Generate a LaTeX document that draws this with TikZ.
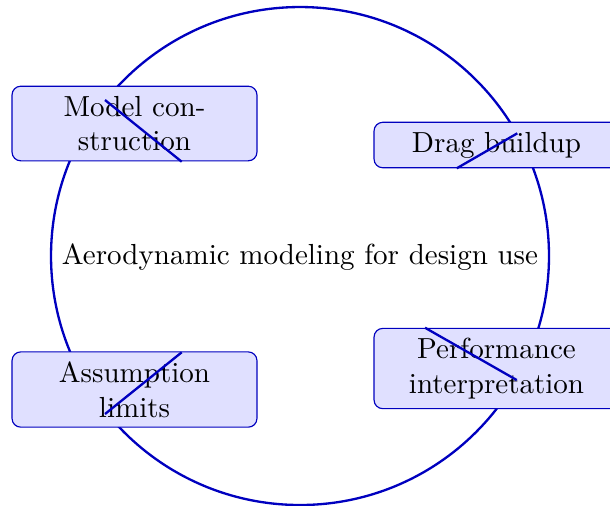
\documentclass[tikz,border=0pt]{standalone}
\usepackage{xcolor}
\usepackage{tikz}

\begin{document}
\begin{tikzpicture}[x=0.3446pt, y=-0.3446pt,
  stage/.style={draw=blue!75!black, fill=blue!12, rounded corners=3pt, line width=0.4pt,
    minimum width=84.4pt, text width=2.5cm, align=center},
  ring/.style={draw=blue!75!black, line width=0.8pt}]
\useasboundingbox (0,0) rectangle (610,505);
\draw[ring] (300,256) circle (85.8pt);
\node (hub) at (300,257) {Aerodynamic modeling for design use};

\node[stage] (model) at (134.5,123.5) {Model construction};
\node[stage] (drag) at (496.5,145) {Drag buildup};
\node[stage] (perf) at (496.5,368.5) {Performance interpretation};
\node[stage] (limits) at (134.5,389.5) {Assumption limits};

% short strokes over the boxes
\coordinate (m1) at (105,100);   \coordinate (m2) at (181.7,161.7);
\coordinate (d1) at (456.7,168.3); \coordinate (d2) at (517.3,133.3);
\coordinate (p1) at (425,327.7); \coordinate (p2) at (516.7,380);
\coordinate (a1) at (105,414);   \coordinate (a2) at (181.7,352.3);
\draw[ring] (m1) -- (m2);
\draw[ring] (d1) -- (d2);
\draw[ring] (p1) -- (p2);
\draw[ring] (a1) -- (a2);
\end{tikzpicture}
\end{document}
